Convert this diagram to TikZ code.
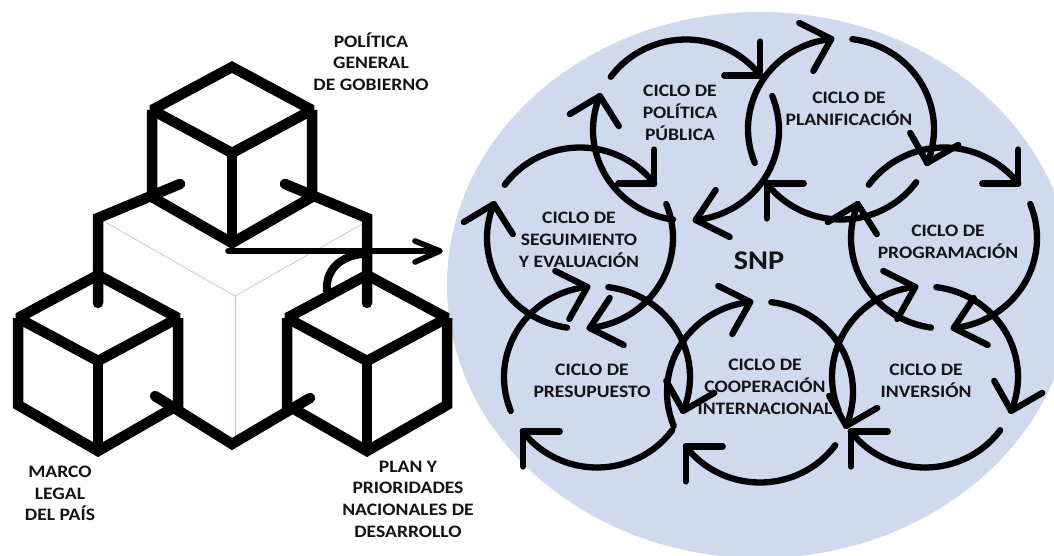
\documentclass[tikz,border=0pt]{standalone}
\usepackage{fontspec}
\setmainfont[FakeStretch=1.12]{Carlito}
\definecolor{disc}{HTML}{CFDAEE}
\definecolor{thinblue}{HTML}{B4C7E7}
\definecolor{ink}{HTML}{141414}
% one arc of a cycle icon: start angle, end angle, two head offsets from the tip
\newcommand{\cyarc}[4]{%
  \draw[arcline] plot[domain=#1:#2,samples=40,smooth] ({93*cos(\x)},{90.5*sin(\x)});
  \coordinate (tip) at ({93*cos(#2)},{90.5*sin(#2)});
  \draw[arcline] ([shift={(#3)}]tip) -- (tip) -- ([shift={(#4)}]tip);}
% icon with its gaps upper left, upper right and bottom
\newcommand{\cyA}[2]{\begin{scope}[shift={(#1,#2)}]
  \cyarc{216}{323}{0,-34}{-36,0}
  \cyarc{-22}{84}{20,-30}{34,17}
  \cyarc{98}{202}{-30,18}{19,30}
\end{scope}}
% icon with its gaps at the top, lower left and lower right
\newcommand{\cyB}[2]{\begin{scope}[shift={(#1,#2)}]
  \cyarc{158}{264}{-32,-16}{-18,32}
  \cyarc{277}{382}{-17,-30}{31,-18}
  \cyarc{36}{143}{37,0}{0,35}
\end{scope}}
\tikzset{
  arcline/.style={line width=6.3pt,line cap=round,line join=round,draw=black},
  cubeline/.style={line width=10.5pt,line cap=round,line join=miter,miter limit=1.5,draw=black},
  thinline/.style={line width=0.7pt,draw=thinblue},
  lbl/.style={font=\fontsize{17.5}{21.7}\selectfont\bfseries,align=center,inner sep=0pt,text=ink},
}
\begin{document}
\begin{tikzpicture}[x=1pt,y=-1pt]
\useasboundingbox (0,0) rectangle (1054,556);
\clip (0,0) rectangle (1054,556);
\fill[white] (0,0) rectangle (1054,556);
\fill[disc] (760,285) ellipse [x radius=313,y radius=273];
% thin edges
\draw[thinline] (98,218) -- (235,296) -- (373,218);
\draw[thinline] (235,296) -- (235,444);
% connectors of the base block
\draw[cubeline] (98,303) -- (98,218) -- (180,184);
\draw[cubeline] (367,303) -- (367,218) -- (285,184);
\draw[cubeline] (155,396) -- (232,444) -- (310,398);
% cubes
\foreach \cx/\dy in {232/0,98/208,367/208}{
  \begin{scope}[shift={(\cx,\dy)}]
  \draw[cubeline,line cap=butt] (0,67) -- (80,110) -- (0,153) -- (-80,110) -- cycle;
  \draw[cubeline,line cap=butt] (0,153) -- (0,243);
  \draw[cubeline,line cap=butt] (-80,110) -- (-80,197) -- (0,243) -- (80,197) -- (80,110);
  \end{scope}
}
% arrow
\draw[line width=5.6pt,line cap=round,line join=round] (228,251) -- (438,251);
\draw[line width=5.6pt,line cap=round,line join=round] (415,241) -- (440,251) -- (415,262);
\draw[line width=8pt] (362,254) .. controls (336,257) and (325,274) .. (327,292);
% cycles
\cyA{686}{130}
\cyA{580}{238}
\cyA{944}{238}
\cyB{841}{129}
\cyB{597}{377}
\cyB{760}{392}
\cyB{925}{377}
% labels
\node[lbl] (pgg) at (371,61.5) {POLÍTICA\\GENERAL\\DE GOBIERNO};
\node[lbl] (mlp) at (60,493.5) {MARCO\\LEGAL\\DEL PAÍS};
\node[lbl] (ppn) at (408,499) {PLAN Y\\PRIORIDADES\\NACIONALES DE\\DESARROLLO};
\node[lbl] (cpp) at (680,113) {CICLO DE\\POLÍTICA\\PÚBLICA};
\node[lbl] (cpl) at (849,108.5) {CICLO DE\\PLANIFICACIÓN};
\node[lbl] (cse) at (579,240) {CICLO DE\\SEGUIMIENTO\\Y EVALUACIÓN};
\node[lbl] (cpr) at (948,241.5) {CICLO DE\\PROGRAMACIÓN};
\node[lbl,font=\fontsize{27}{30}\selectfont\bfseries] (snp) at (759,261) {SNP};
\node[lbl] (cpe) at (592,381) {CICLO DE\\PRESUPUESTO};
\node[lbl] (cci) at (765,387) {CICLO DE\\COOPERACIÓN\\INTERNACIONAL};
\node[lbl] (cin) at (926,380.5) {CICLO DE\\INVERSIÓN};
\end{tikzpicture}
\end{document}
